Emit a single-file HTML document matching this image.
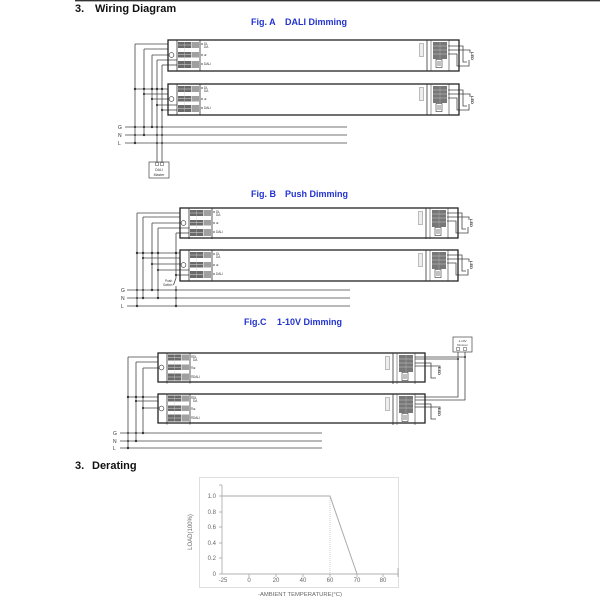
<!DOCTYPE html>
<html><head><meta charset="utf-8"><style>
html,body{margin:0;padding:0;background:#fff;}
svg{display:block;}
text{font-family:"Liberation Sans",Arial,sans-serif;}
</style></head><body>
<svg width="600" height="600" viewBox="0 0 600 600" xmlns="http://www.w3.org/2000/svg">
<defs>
  <g id="lt">
    <line x1="9" y1="0" x2="9" y2="31" stroke="#333" stroke-width="0.8"/>
    <line x1="32" y1="0" x2="32" y2="31" stroke="#333" stroke-width="0.8"/>
    <rect x="10" y="2" width="13" height="6" fill="#6a6a6a"/>
    <rect x="23.5" y="2" width="7.5" height="6" fill="#a0a0a0"/>
    <rect x="10" y="12" width="13" height="5.5" fill="#6a6a6a"/>
    <rect x="23.5" y="12" width="7.5" height="5.5" fill="#a0a0a0"/>
    <rect x="10" y="21" width="13" height="7" fill="#6a6a6a"/>
    <rect x="23.5" y="21" width="7.5" height="7" fill="#a0a0a0"/>
    <line x1="10" y1="5" x2="23" y2="5" stroke="#ddd" stroke-width="0.5"/>
    <line x1="10" y1="14.7" x2="23" y2="14.7" stroke="#ddd" stroke-width="0.5"/>
    <line x1="10" y1="24.5" x2="23" y2="24.5" stroke="#ddd" stroke-width="0.5"/>
    <line x1="16.5" y1="2" x2="16.5" y2="28" stroke="#ccc" stroke-width="0.4"/>
    <circle cx="3.5" cy="15" r="2.4" fill="#fff" stroke="#333" stroke-width="0.6"/>
    <circle cx="34" cy="4" r="0.9" fill="none" stroke="#444" stroke-width="0.4"/>
    <circle cx="34" cy="15" r="0.9" fill="none" stroke="#444" stroke-width="0.4"/>
    <circle cx="34" cy="24" r="0.9" fill="none" stroke="#444" stroke-width="0.4"/>
  </g>
  <g id="rt">
    <line x1="-32" y1="0" x2="-32" y2="31" stroke="#333" stroke-width="0.8"/>
    <line x1="-28" y1="0" x2="-28" y2="31" stroke="#333" stroke-width="0.5"/>
    <line x1="-10" y1="0" x2="-10" y2="31" stroke="#333" stroke-width="0.6"/>
    <rect x="-26" y="2" width="14" height="17" fill="#777"/>
    <line x1="-26" y1="6" x2="-12" y2="6" stroke="#ccc" stroke-width="0.5"/>
    <line x1="-26" y1="10" x2="-12" y2="10" stroke="#ccc" stroke-width="0.5"/>
    <line x1="-26" y1="14" x2="-12" y2="14" stroke="#ccc" stroke-width="0.5"/>
    <line x1="-19" y1="2" x2="-19" y2="19" stroke="#bbb" stroke-width="0.4"/>
    <rect x="-23" y="19.5" width="6" height="8" fill="#fff" stroke="#333" stroke-width="0.6"/>
    <line x1="-21" y1="21" x2="-21" y2="26" stroke="#333" stroke-width="0.6"/>
    <line x1="-19" y1="21" x2="-19" y2="26" stroke="#333" stroke-width="0.6"/>
    <rect x="-40" y="3" width="5" height="14" fill="#bbb"/>
    <rect x="-39" y="4" width="3" height="12" fill="#eee"/>
  </g>
</defs>

<!-- header -->
<line x1="75" y1="0.7" x2="600" y2="0.7" stroke="#333" stroke-width="1.4"/>
<text x="75" y="12" font-size="11" font-weight="bold" fill="#111">3.</text>
<text x="95" y="12" font-size="11" font-weight="bold" fill="#111">Wiring Diagram</text>

<!-- ============ FIG A ============ -->
<text x="251" y="25" font-size="9" font-weight="bold" fill="#2233cc">Fig. A</text>
<text x="285" y="25" font-size="9" font-weight="bold" fill="#2233cc">DALI Dimming</text>

<g stroke="#444" stroke-width="0.8" fill="none">
  <!-- verticals -->
  <line x1="135" y1="44" x2="135" y2="143"/>
  <line x1="144" y1="49" x2="144" y2="135"/>
  <line x1="152" y1="55" x2="152" y2="127"/>
  <line x1="157" y1="60" x2="157" y2="162"/>
  <line x1="162" y1="65" x2="162" y2="162"/>
  <!-- upper horizontals -->
  <line x1="135" y1="44" x2="168" y2="44"/>
  <line x1="144" y1="49" x2="168" y2="49"/>
  <line x1="152" y1="55" x2="169" y2="55"/>
  <line x1="157" y1="60" x2="177" y2="60"/>
  <line x1="162" y1="65" x2="177" y2="65"/>
  <!-- lower horizontals -->
  <line x1="135" y1="89" x2="168" y2="89"/>
  <line x1="144" y1="94" x2="168" y2="94"/>
  <line x1="152" y1="99" x2="169" y2="99"/>
  <line x1="157" y1="105" x2="177" y2="105"/>
  <line x1="162" y1="110" x2="177" y2="110"/>
  <!-- mains -->
  <line x1="125" y1="127" x2="347" y2="127"/>
  <line x1="125" y1="135" x2="347" y2="135"/>
  <line x1="125" y1="143" x2="347" y2="143"/>
  <!-- LED wiring upper -->
  <polyline points="448,46 463,46 463,62 467,62"/>
  <polyline points="448,50 470,50 470,53"/>
  <polyline points="448,54 457,54 457,66 469,66 469,60"/>
  <!-- LED wiring lower -->
  <polyline points="448,90 463,90 463,106 467,106"/>
  <polyline points="448,94 470,94 470,97"/>
  <polyline points="448,98 457,98 457,110 469,110 469,104"/>
</g>
<g fill="#333">
  <circle cx="135" cy="89" r="1.2"/><circle cx="144" cy="89" r="1.2"/><circle cx="152" cy="89" r="1.2"/><circle cx="157" cy="89" r="1.2"/><circle cx="162" cy="89" r="1.2"/>
  <circle cx="144" cy="94" r="1.1"/><circle cx="152" cy="99" r="1.1"/><circle cx="157" cy="105" r="1.1"/><circle cx="162" cy="110" r="1.1"/>
  <circle cx="135" cy="127" r="1.1"/><circle cx="144" cy="127" r="1.1"/><circle cx="152" cy="127" r="1.2"/><circle cx="157" cy="127" r="1"/><circle cx="162" cy="127" r="1"/>
  <circle cx="135" cy="135" r="1"/><circle cx="144" cy="135" r="1.2"/><circle cx="157" cy="135" r="1"/><circle cx="162" cy="135" r="1"/>
  <circle cx="135" cy="143" r="1.2"/><circle cx="157" cy="143" r="1"/><circle cx="162" cy="143" r="1"/>
</g>
<text x="118" y="129" font-size="5" fill="#333">G</text>
<text x="118" y="137" font-size="5" fill="#333">N</text>
<text x="118" y="145" font-size="5" fill="#333">L</text>

<!-- drivers A -->
<rect x="168" y="40" width="291" height="31" fill="none" stroke="#222" stroke-width="1.3"/>
<use href="#lt" x="168" y="40"/>
<use href="#rt" x="459" y="40"/>
<rect x="168" y="84" width="291" height="31" fill="none" stroke="#222" stroke-width="1.3"/>
<use href="#lt" x="168" y="84"/>
<use href="#rt" x="459" y="84"/>
<g font-size="3.2" fill="#333">
  <text x="204" y="45">DL</text><text x="204" y="48">DA</text><text x="204" y="56">⊕</text><text x="204" y="65">DALI</text>
  <text x="204" y="89">DL</text><text x="204" y="92">DA</text><text x="204" y="100">⊕</text><text x="204" y="109">DALI</text>
</g>
<text x="0" y="0" font-size="4" font-weight="bold" fill="#333" transform="translate(471,52) rotate(90)">LED</text>
<text x="0" y="0" font-size="4" font-weight="bold" fill="#333" transform="translate(471,96) rotate(90)">LED</text>

<!-- DALI master -->
<rect x="149" y="162" width="20" height="16" fill="#fff" stroke="#444" stroke-width="0.7"/>
<rect x="155.5" y="162.5" width="3" height="3" fill="#fff" stroke="#444" stroke-width="0.5"/>
<rect x="160.5" y="162.5" width="3" height="3" fill="#fff" stroke="#444" stroke-width="0.5"/>
<text x="159" y="171" font-size="3.5" text-anchor="middle" fill="#333">DALI</text>
<text x="159" y="176" font-size="3.5" text-anchor="middle" fill="#333">Master</text>

<!-- ============ FIG B ============ -->
<text x="251" y="197" font-size="9" font-weight="bold" fill="#2233cc">Fig. B</text>
<text x="285" y="197" font-size="9" font-weight="bold" fill="#2233cc">Push Dimming</text>

<g stroke="#444" stroke-width="0.8" fill="none">
  <line x1="137" y1="213" x2="137" y2="306"/>
  <line x1="143" y1="217" x2="143" y2="298"/>
  <line x1="152" y1="223" x2="152" y2="290"/>
  <line x1="158" y1="228" x2="158" y2="298"/>
  <line x1="176" y1="233" x2="176" y2="278"/>
  <polyline points="176,278 173.5,285"/>
  <line x1="176" y1="286" x2="176" y2="306"/>
  <line x1="137" y1="213" x2="180" y2="213"/>
  <line x1="143" y1="217" x2="180" y2="217"/>
  <line x1="152" y1="223" x2="181" y2="223"/>
  <line x1="158" y1="228" x2="189" y2="228"/>
  <line x1="176" y1="233" x2="189" y2="233"/>
  <line x1="137" y1="253" x2="180" y2="253"/>
  <line x1="143" y1="258" x2="180" y2="258"/>
  <line x1="152" y1="264" x2="181" y2="264"/>
  <line x1="158" y1="270" x2="189" y2="270"/>
  <line x1="176" y1="275" x2="189" y2="275"/>
  <line x1="127" y1="290" x2="350" y2="290"/>
  <line x1="127" y1="298" x2="350" y2="298"/>
  <line x1="127" y1="306" x2="350" y2="306"/>
  <polyline points="447,213 462,213 462,229 466,229"/>
  <polyline points="447,217 469,217 469,220"/>
  <polyline points="447,221 456,221 456,233 468,233 468,227"/>
  <polyline points="447,255 462,255 462,271 466,271"/>
  <polyline points="447,259 469,259 469,262"/>
  <polyline points="447,263 456,263 456,275 468,275 468,269"/>
</g>
<g fill="#333">
  <circle cx="137" cy="253" r="1.2"/><circle cx="143" cy="253" r="1.2"/><circle cx="152" cy="253" r="1.2"/><circle cx="158" cy="253" r="1.2"/><circle cx="176" cy="253" r="1.2"/>
  <circle cx="143" cy="258" r="1.1"/><circle cx="152" cy="264" r="1.1"/><circle cx="158" cy="270" r="1.1"/><circle cx="176" cy="275" r="1.1"/>
  <circle cx="137" cy="290" r="1"/><circle cx="143" cy="290" r="1"/><circle cx="152" cy="290" r="1.2"/><circle cx="158" cy="290" r="1"/><circle cx="176" cy="290" r="1"/>
  <circle cx="137" cy="298" r="1"/><circle cx="143" cy="298" r="1.2"/><circle cx="158" cy="298" r="1.2"/><circle cx="176" cy="298" r="1"/>
  <circle cx="137" cy="306" r="1.2"/><circle cx="176" cy="306" r="1.2"/>
</g>
<text x="121" y="292" font-size="5" fill="#333">G</text>
<text x="121" y="300" font-size="5" fill="#333">N</text>
<text x="121" y="308" font-size="5" fill="#333">L</text>
<text x="165" y="282" font-size="3.2" fill="#333">Push</text>
<text x="163" y="286" font-size="3.2" fill="#333">Switch</text>

<rect x="180" y="208" width="278" height="30" fill="none" stroke="#222" stroke-width="1.3"/>
<use href="#lt" x="180" y="208"/>
<use href="#rt" x="458" y="208"/>
<rect x="180" y="250" width="278" height="31" fill="none" stroke="#222" stroke-width="1.3"/>
<use href="#lt" x="180" y="250"/>
<use href="#rt" x="458" y="250"/>
<g font-size="3.2" fill="#333">
  <text x="216" y="213">DL</text><text x="216" y="216">DA</text><text x="216" y="224">⊕</text><text x="216" y="233">DALI</text>
  <text x="216" y="255">DL</text><text x="216" y="258">DA</text><text x="216" y="266">⊕</text><text x="216" y="275">DALI</text>
</g>
<text x="0" y="0" font-size="4" font-weight="bold" fill="#333" transform="translate(470,219) rotate(90)">LED</text>
<text x="0" y="0" font-size="4" font-weight="bold" fill="#333" transform="translate(470,261) rotate(90)">LED</text>

<!-- ============ FIG C ============ -->
<text x="244" y="325" font-size="9" font-weight="bold" fill="#2233cc">Fig.C</text>
<text x="277" y="325" font-size="9" font-weight="bold" fill="#2233cc">1-10V Dimming</text>

<g stroke="#444" stroke-width="0.8" fill="none">
  <line x1="128" y1="357" x2="128" y2="448"/>
  <line x1="136" y1="362" x2="136" y2="441"/>
  <line x1="143" y1="368" x2="143" y2="433"/>
  <line x1="128" y1="357" x2="158" y2="357"/>
  <line x1="136" y1="362" x2="158" y2="362"/>
  <line x1="143" y1="368" x2="160" y2="368"/>
  <line x1="128" y1="397" x2="158" y2="397"/>
  <line x1="136" y1="401" x2="158" y2="401"/>
  <line x1="143" y1="408" x2="160" y2="408"/>
  <line x1="120" y1="433" x2="322" y2="433"/>
  <line x1="120" y1="441" x2="322" y2="441"/>
  <line x1="120" y1="448" x2="322" y2="448"/>
  <!-- dimmer wiring -->
  <polyline points="415,357 465,357 465,351"/>
  <polyline points="415,359 458,359 458,351"/>
  <polyline points="458,359 458,397 415,397"/>
  <polyline points="465,357 465,400 415,400"/>
  <!-- LED wiring -->
  <polyline points="415,363 431,363 431,378 436,378"/>
  <polyline points="415,366 440,366 440,369"/>
  <polyline points="415,404 431,404 431,419 436,419"/>
  <polyline points="415,407 440,407 440,410"/>
</g>
<g fill="#333">
  <circle cx="128" cy="397" r="1.2"/><circle cx="136" cy="397" r="1.2"/><circle cx="143" cy="397" r="1.2"/>
  <circle cx="136" cy="401" r="1.1"/><circle cx="143" cy="408" r="1.1"/>
  <circle cx="128" cy="433" r="1"/><circle cx="136" cy="433" r="1"/><circle cx="143" cy="433" r="1.2"/>
  <circle cx="128" cy="441" r="1"/><circle cx="136" cy="441" r="1.2"/>
  <circle cx="128" cy="448" r="1.2"/>
  <circle cx="458" cy="359" r="1"/><circle cx="465" cy="357" r="1"/>
</g>
<text x="113" y="435" font-size="5" fill="#333">G</text>
<text x="113" y="443" font-size="5" fill="#333">N</text>
<text x="113" y="450" font-size="5" fill="#333">L</text>

<rect x="158" y="353" width="267" height="29" fill="none" stroke="#222" stroke-width="1.3"/>
<use href="#lt" x="158" y="353" transform="translate(0,-0.5)"/>
<use href="#rt" x="425" y="353"/>
<rect x="158" y="394" width="267" height="29" fill="none" stroke="#222" stroke-width="1.3"/>
<use href="#lt" x="158" y="394" transform="translate(0,-0.5)"/>
<use href="#rt" x="425" y="394"/>
<g font-size="3.2" fill="#333">
  <text x="193" y="358">DL</text><text x="193" y="361">DA</text><text x="193" y="369">⊕</text><text x="193" y="378">DALI</text>
  <text x="193" y="399">DL</text><text x="193" y="402">DA</text><text x="193" y="410">⊕</text><text x="193" y="419">DALI</text>
</g>
<text x="0" y="0" font-size="4" font-weight="bold" fill="#333" transform="translate(438,367) rotate(90)">LED</text>
<text x="0" y="0" font-size="4" font-weight="bold" fill="#333" transform="translate(438,408) rotate(90)">LED</text>

<!-- dimmer -->
<rect x="453" y="337" width="19" height="15" fill="#fff" stroke="#444" stroke-width="0.7"/>
<rect x="456.5" y="347.5" width="3" height="3" fill="#fff" stroke="#444" stroke-width="0.5"/>
<rect x="463.5" y="347.5" width="3" height="3" fill="#fff" stroke="#444" stroke-width="0.5"/>
<text x="462.5" y="342" font-size="3" text-anchor="middle" fill="#333">1-10V</text>
<text x="462.5" y="346" font-size="3" text-anchor="middle" fill="#333">Dimmer</text>

<!-- ============ DERATING ============ -->
<text x="75" y="469" font-size="11" font-weight="bold" fill="#111">3.</text>
<text x="92" y="469" font-size="11" font-weight="bold" fill="#111">Derating</text>

<rect x="199.5" y="477.5" width="199" height="110" fill="none" stroke="#d6d6d6" stroke-width="0.8"/>
<g stroke="#999" stroke-width="0.7" fill="none">
  <line x1="222" y1="485" x2="222" y2="574"/>
  <line x1="222" y1="574" x2="398" y2="574"/>
  <line x1="219" y1="485" x2="222" y2="485"/>
  <line x1="219" y1="496" x2="222" y2="496"/>
  <line x1="219" y1="512" x2="222" y2="512"/>
  <line x1="219" y1="527" x2="222" y2="527"/>
  <line x1="219" y1="543" x2="222" y2="543"/>
  <line x1="219" y1="558" x2="222" y2="558"/>
  <line x1="219" y1="574" x2="222" y2="574"/>
  <line x1="249" y1="574" x2="249" y2="577"/>
  <line x1="276" y1="574" x2="276" y2="577"/>
  <line x1="303" y1="574" x2="303" y2="577"/>
  <line x1="330" y1="574" x2="330" y2="577"/>
  <line x1="357" y1="574" x2="357" y2="577"/>
  <line x1="383" y1="574" x2="383" y2="577"/>
  <line x1="398" y1="568" x2="398" y2="577"/>
</g>
<line x1="330" y1="496" x2="330" y2="574" stroke="#bbb" stroke-width="0.7" stroke-dasharray="1,1"/>
<polyline points="222,496 330,496 357,574" fill="none" stroke="#aaa" stroke-width="1"/>
<g font-size="6" fill="#666" text-anchor="end">
  <text x="216" y="498">1.0</text>
  <text x="216" y="514">0.8</text>
  <text x="216" y="529">0.6</text>
  <text x="216" y="545">0.4</text>
  <text x="216" y="560">0.2</text>
  <text x="216" y="576">0</text>
</g>
<g font-size="6" fill="#666" text-anchor="middle">
  <text x="223" y="582">-25</text>
  <text x="249" y="582">0</text>
  <text x="276" y="582">20</text>
  <text x="303" y="582">40</text>
  <text x="330" y="582">60</text>
  <text x="357" y="582">70</text>
  <text x="383" y="582">80</text>
</g>
<text x="0" y="0" font-size="6" fill="#666" text-anchor="middle" transform="translate(192,532) rotate(-90)">LOAD(100%)</text>
<text x="258" y="596" font-size="5.5" fill="#666" textLength="84" lengthAdjust="spacingAndGlyphs">-AMBIENT TEMPERATURE(°C)</text>
</svg>
</body></html>
